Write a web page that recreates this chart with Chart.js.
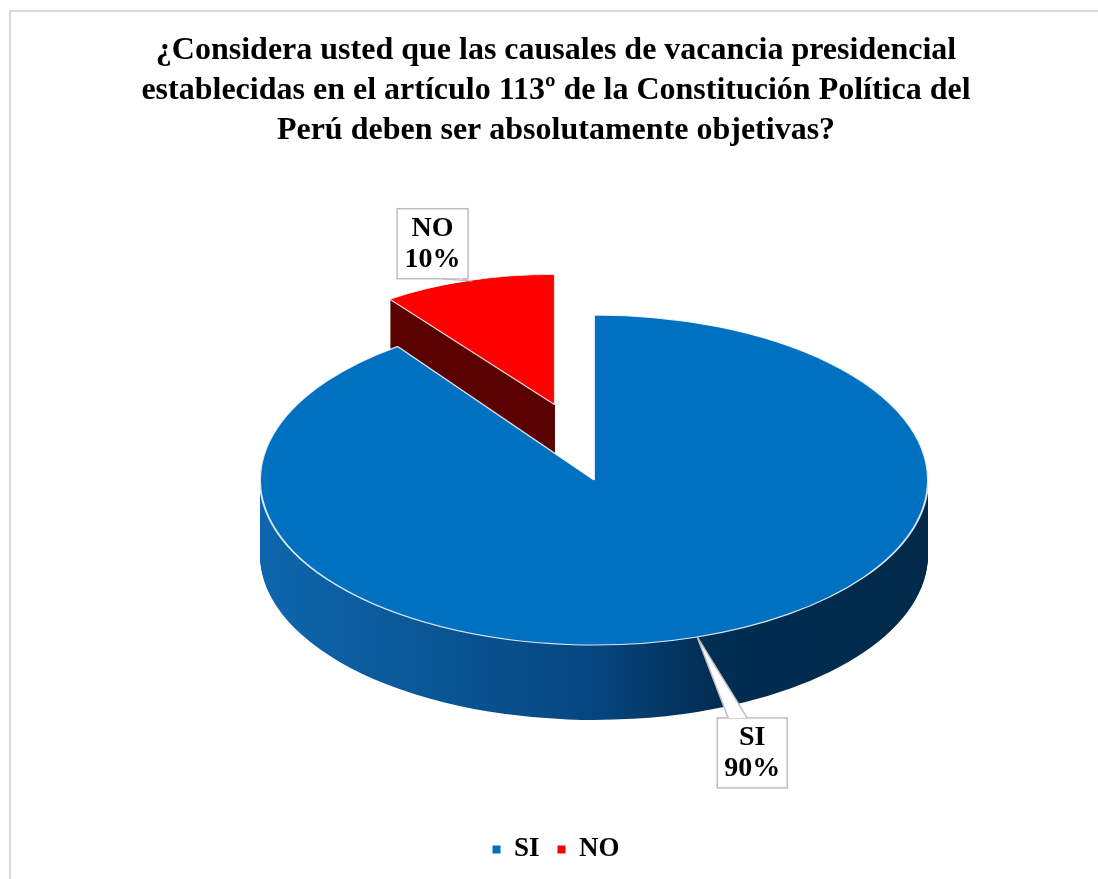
<!DOCTYPE html>
<html>
<head>
<meta charset="utf-8">
<script src="https://cdn.jsdelivr.net/npm/chart.js@4.4.0/dist/chart.umd.min.js"></script>
<style>
body { margin: 0; background: #fff; }
#wrap { position: relative; width: 1098px; height: 879px; overflow: hidden; }
#frame { position: absolute; left: 9px; top: 10px; width: 1200px; height: 1000px;
  border-left: 2px solid #d9d9d9; border-top: 2px solid #d9d9d9; pointer-events: none; }
</style>
</head>
<body>
<div id="wrap"><canvas id="pie" width="1098" height="879"></canvas><div id="frame"></div></div>
<script>
var labels = ['SI', 'NO'];
var values = [90, 10];
var colors = ['#0070c0', '#ff0000'];
var titleLines = [
  '¿Considera usted que las causales de vacancia presidencial',
  'establecidas en el artículo 113º de la Constitución Política del',
  'Perú deben ser absolutamente objetivas?'
];

var serif = "'Liberation Serif', 'Times New Roman', serif";

// 3d look: flatten the pie into an ellipse, extrude it and pull NO out
var pie3d = {
  id: 'pie3d',
  cx: 594, cy: 480, rx: 334, ry: 165, depth: 75,
  explode: [[0, 0], [0.38, 0.48]],
  shrink: [[1, 1], [0.84, 0.79]],   // back slice looks smaller (perspective)
  place: function (ctx, el, i, R, dy) {
    var mid = (el.startAngle + el.endAngle) / 2;
    var ex = this.explode[i][0] * R, ey = this.explode[i][1] * R;
    ctx.translate(this.cx, this.cy + dy);
    ctx.scale(this.rx / R, this.ry / R);
    ctx.translate(Math.cos(mid) * ex, Math.sin(mid) * ey);
    ctx.scale(this.shrink[i][0], this.shrink[i][1]);
    ctx.translate(-el.x, -el.y);
  },
  toScreen: function (el, i, R, ang, rr) {
    var mid = (el.startAngle + el.endAngle) / 2;
    var ex = this.explode[i][0] * R, ey = this.explode[i][1] * R;
    return {
      x: this.cx + (this.rx / R) * (Math.cos(mid) * ex + this.shrink[i][0] * Math.cos(ang) * rr),
      y: this.cy + (this.ry / R) * (Math.sin(mid) * ey + this.shrink[i][1] * Math.sin(ang) * rr)
    };
  },
  beforeDatasetsDraw: function (chart) {
    var self = this;
    var ctx = chart.ctx;
    var arcs = chart.getDatasetMeta(0).data;
    var R = arcs[0].outerRadius;

    var grad = ctx.createLinearGradient(arcs[0].x - R, 0, arcs[0].x + R, 0);
    grad.addColorStop(0, '#0d66ad');
    grad.addColorStop(0.25, '#0a5796');
    grad.addColorStop(0.5, '#054680');
    grad.addColorStop(0.68, '#012d52');
    grad.addColorStop(1, '#012a4a');
    var sideFill = [grad, '#5a0000'];

    [1, 0].forEach(function (i) {
      var el = arcs[i];
      var side = Object.create(el);
      side.options = Object.assign({}, el.options, { backgroundColor: sideFill[i], borderWidth: 0 });
      for (var dy = self.depth; dy > 0; dy--) {
        ctx.save();
        self.place(ctx, el, i, R, dy);
        side.draw(ctx);
        ctx.restore();
      }
    });

    arcs.forEach(function (el, i) {
      ctx.save();
      self.place(ctx, el, i, R, 0);
      el.draw(ctx);
      ctx.restore();
    });
    return false;
  },
  afterDraw: function (chart) {
    var ctx = chart.ctx;
    var arcs = chart.getDatasetMeta(0).data;
    var R = arcs[0].outerRadius;
    // callout boxes: offset of box from rim point, size, pointer base on box edge
    var boxes = [
      { dx: 20, dy: 81, w: 70, h: 70, base: [11, 30], edge: 'top' },
      { dx: -71, dy: -72, w: 71, h: 70, base: [45, 66], edge: 'bottom' }
    ];
    var total = values.reduce(function (s, v) { return s + v; }, 0);
    for (var i = 0; i < arcs.length; i++) {
      var el = arcs[i];
      var mid = (el.startAngle + el.endAngle) / 2;
      var a = this.toScreen(el, i, R, mid, R);
      var b = boxes[i];
      var bx = a.x + b.dx, by = a.y + b.dy;
      var ey = b.edge === 'top' ? by : by + b.h;
      ctx.save();
      ctx.fillStyle = '#fff';
      ctx.strokeStyle = '#bfbfbf';
      ctx.lineWidth = 1.5;
      ctx.fillRect(bx, by, b.w, b.h);
      ctx.strokeRect(bx, by, b.w, b.h);
      ctx.beginPath();
      ctx.moveTo(bx + b.base[0], ey);
      ctx.lineTo(a.x, a.y);
      ctx.lineTo(bx + b.base[1], ey);
      ctx.closePath();
      ctx.fill();
      ctx.beginPath();
      ctx.moveTo(bx + b.base[0], ey);
      ctx.lineTo(a.x, a.y);
      ctx.lineTo(bx + b.base[1], ey);
      ctx.stroke();
      ctx.fillStyle = '#000';
      ctx.font = 'bold 28px ' + serif;
      ctx.textAlign = 'center';
      ctx.textBaseline = 'middle';
      ctx.fillText(labels[i], bx + b.w / 2, by + b.h * 0.29);
      ctx.fillText(Math.round(values[i] / total * 100) + '%', bx + b.w / 2, by + b.h * 0.73);
      ctx.restore();
    }
  }
};

new Chart(document.getElementById('pie'), {
  type: 'pie',
  data: {
    labels: labels,
    datasets: [{
      data: values,
      backgroundColor: colors,
      borderColor: 'rgba(255,255,255,0.85)',
      borderWidth: 1.2,
      radius: 200,
      clip: false
    }]
  },
  plugins: [pie3d],
  options: {
    responsive: false,
    animation: false,
    events: [],
    layout: { padding: { left: 14, bottom: 6 } },
    plugins: {
      title: {
        display: true,
        text: titleLines,
        color: '#000',
        font: { family: serif, size: 32, weight: 'bold', lineHeight: 1.25 },
        padding: { top: 31, bottom: 10 }
      },
      legend: {
        position: 'bottom',
        labels: {
          boxWidth: 8,
          boxHeight: 8,
          padding: 18,
          color: '#000',
          font: { family: serif, size: 27, weight: 'bold' },
          generateLabels: function (chart) {
            var items = Chart.overrides.pie.plugins.legend.labels.generateLabels(chart);
            items.forEach(function (it) { it.lineWidth = 0; });
            return items;
          }
        }
      },
      tooltip: { enabled: false }
    }
  }
});
</script>
</body>
</html>
